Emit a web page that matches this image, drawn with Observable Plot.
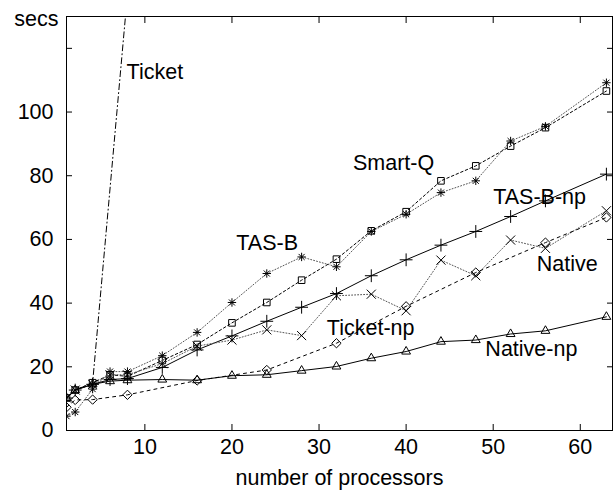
<!DOCTYPE html>
<html><head><meta charset="utf-8">
<script src="https://cdn.jsdelivr.net/npm/d3@7"></script>
<script src="https://cdn.jsdelivr.net/npm/@observablehq/plot@0.6"></script>
<style>body{margin:0;background:#fff}</style>
</head><body><div id="chart"></div>
<script>
// processors (x)
const procs = [1,2,4,6,8,12,16,20,24,28,32,36,40,44,48,52,56,63];
const ticketNpProcs = [1,2,4,8,16,24,32,40,48,56,63];
const ticketProcs = [1,2,4,8];

// seconds (y)
const smartQ   = [10.2,12.7,15.0,17.5,17.0,22.0,27.0,33.8,40.2,47.2,53.8,62.7,68.7,78.4,83.1,89.3,95.1,106.6];
const tasB     = [4.5,5.8,13.0,18.5,18.5,23.5,30.8,40.2,49.3,54.5,51.4,62.5,67.9,74.7,78.4,90.9,95.5,109.2];
const tasBnp   = [10.2,12.7,14.5,16.0,16.3,19.8,25.3,29.7,34.3,38.7,43.0,48.6,53.6,58.2,62.5,67.2,72.1,80.5];
const native   = [10.2,12.7,14.5,17.5,17.5,21.0,26.5,28.4,31.6,29.8,42.3,42.8,37.6,53.5,48.6,59.8,57.2,69.0];
const nativeNp = [10.2,12.7,14.5,15.5,15.8,16.0,15.8,17.2,17.5,18.8,20.1,22.7,24.8,27.9,28.4,30.3,31.3,35.7];
const ticketNp = [7.3,9.6,9.7,11.2,15.7,19.0,27.4,39.0,49.6,59.0,66.9];
const ticket   = [10.2,12.7,15.0,137];

// curve labels
const labelText = ["Ticket","Smart-Q","TAS-B","TAS-B-np","Native","Ticket-np","Native-np"];
const labelX    = [7.9, 33.9, 20.5, 50.0, 55.0, 30.9, 49.1];
const labelY    = [112.5, 83.9, 58.8, 73.4, 52.4, 32.1, 25.6];

const xTicks = [10,20,30,40,50,60];
const yTicks = [0,20,40,60,80,100];
const yMinor = [20,40,60,80,100,120];

const asterisk8 = {
  draw(ctx, size) {
    const r = Math.sqrt(size / Math.PI);
    const d = r * 0.72;
    ctx.moveTo(-r, 0); ctx.lineTo(r, 0);
    ctx.moveTo(0, -r); ctx.lineTo(0, r);
    ctx.moveTo(-d, -d); ctx.lineTo(d, d);
    ctx.moveTo(-d, d); ctx.lineTo(d, -d);
  }
};

const series = [
  {x: procs, y: smartQ,   stroke: "#000", dash: "2.5,2.5", symbol: "square2"},
  {x: procs, y: tasB,     stroke: "#555", dash: "1,2",     symbol: asterisk8},
  {x: procs, y: tasBnp,   stroke: "#000", dash: null,      symbol: "plus"},
  {x: procs, y: native,   stroke: "#555", dash: "1,2",     symbol: "times"},
  {x: procs, y: nativeNp, stroke: "#000", dash: null,      symbol: "triangle2"},
  {x: ticketNpProcs, y: ticketNp, stroke: "#000", dash: "3,4", symbol: "diamond2"},
  {x: ticketProcs, y: ticket, stroke: "#000", dash: "6,3,1,3", symbol: null}
];

const marks = [];
for (const s of series) {
  const data = s.x.map((x, i) => ({px: x, py: s.y[i]}));
  marks.push(Plot.line(data, {x: "px", y: "py", stroke: s.stroke, strokeWidth: 1, strokeDasharray: s.dash, clip: true}));
  if (s.symbol) marks.push(Plot.dot(data, {x: "px", y: "py", symbol: s.symbol, r: 4.2, stroke: "#000", strokeWidth: 1, fill: "none", clip: true}));
}
const labels = labelText.map((t, i) => ({t, lx: labelX[i], ly: labelY[i]}));

const chart = Plot.plot({
  width: 615,
  height: 497,
  marginLeft: 66,
  marginRight: 3,
  marginTop: 16,
  marginBottom: 67,
  style: {fontFamily: "'Liberation Sans', Arial, sans-serif", fontSize: "21.5px", background: "#fff", color: "#000"},
  x: {domain: [1, 63.7]},
  y: {domain: [0, 130]},
  marks: [
    Plot.axisY({anchor: "left", ticks: yTicks, tickSize: 0, tickPadding: 13, label: null}),
    Plot.axisX({anchor: "bottom", ticks: xTicks, tickSize: 0, tickPadding: 8, label: null}),
    Plot.axisY({anchor: "left", ticks: yMinor, tickSize: -6, tickFormat: () => "", label: null}),
    Plot.axisY({anchor: "right", ticks: yMinor, tickSize: -6, tickFormat: () => "", label: null}),
    Plot.axisX({anchor: "bottom", ticks: xTicks, tickSize: -6, tickFormat: () => "", label: null}),
    Plot.axisX({anchor: "top", ticks: xTicks, tickSize: -6, tickFormat: () => "", label: null}),
    ...marks,
    Plot.frame({stroke: "#000", strokeWidth: 1}),
    Plot.text(labels, {x: "lx", y: "ly", text: "t", textAnchor: "start", fill: "#000"}),
    Plot.text(["number of processors"], {frameAnchor: "bottom", lineAnchor: "middle", dy: 48, fill: "#000"}),
    Plot.text(["secs"], {frameAnchor: "top-left", lineAnchor: "middle", dx: -8, dy: 3, textAnchor: "end", fill: "#000"})
  ]
});
document.getElementById("chart").appendChild(chart);
</script>
</body></html>
